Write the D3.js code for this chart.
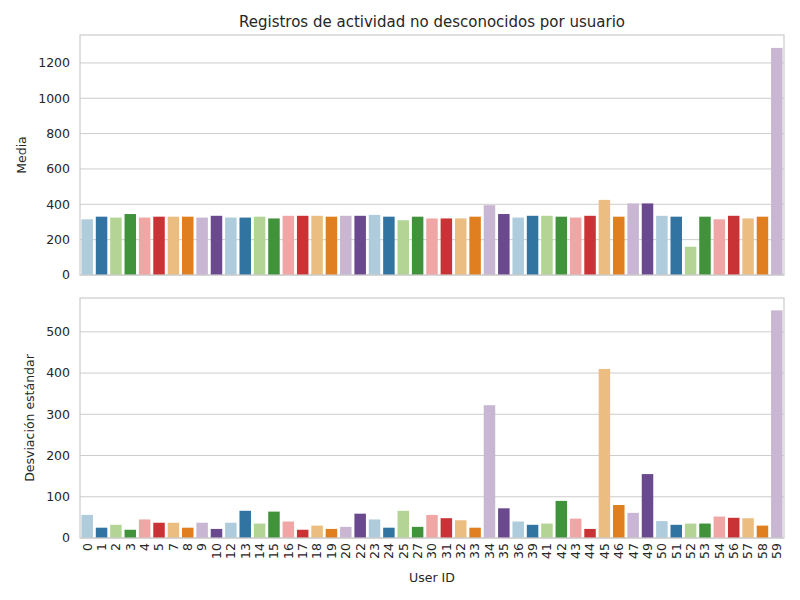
<!DOCTYPE html>
<html>
<head>
<meta charset="utf-8" />
<script src="https://d3js.org/d3.v7.min.js"></script>
<style>
  body { margin: 0; background: #fff; }
  text { font-family: "DejaVu Sans", sans-serif; fill: #262626; }
</style>
</head>
<body>
<svg id="chart" width="800" height="600"></svg>
<script>
var userIds = ["0","1","2","3","4","5","7","8","9","10","12","13","14","15","16","17","18","19","20","22","23","24","25","27","30","31","32","33","34","35","36","39","41","42","43","44","45","46","47","49","50","51","52","53","54","56","57","58","59"];
var meanValues = [315,330,325,345,325,330,330,330,325,335,325,325,330,320,335,335,335,330,335,335,340,330,310,330,320,320,320,330,395,345,325,335,335,330,325,335,425,330,405,405,335,330,160,330,315,335,320,330,1285];
var stdValues = [56,25,32,20,45,37,37,25,37,22,37,66,35,64,40,20,30,22,27,59,45,25,66,27,56,48,43,25,322,72,40,32,35,90,47,22,410,80,61,155,41,32,35,35,52,49,48,30,552];
var palette = ["#a6cee3","#1f78b4","#b2df8a","#33a02c","#fb9a99","#e31a1c","#fdbf6f","#ff7f00","#cab2d6","#6a3d9a"];

// seaborn-style desaturation
var colors = palette.map(function(c) {
  var h = d3.hsl(c); h.s *= 0.75; return h.formatHex();
});

var svg = d3.select("#chart");
var left = 80, right = 784;

var x = d3.scaleBand().domain(userIds).range([left, right]).paddingInner(0.2).paddingOuter(0.1);

svg.append("text").attr("x", (left + right) / 2).attr("y", 27)
  .attr("text-anchor", "middle").attr("font-size", 15)
  .text("Registros de actividad no desconocidos por usuario");

function panel(values, top, bottom, maxY, ticks, label, labelX) {
  var y = d3.scaleLinear().domain([0, maxY]).range([bottom, top]);
  var g = svg.append("g");
  g.selectAll(".grid").data(ticks).enter().append("line")
    .attr("x1", left).attr("x2", right)
    .attr("y1", function(d) { return y(d); }).attr("y2", function(d) { return y(d); })
    .attr("stroke", "#cccccc").attr("stroke-width", 1);
  g.selectAll(".bar").data(values).enter().append("rect")
    .attr("x", function(d, i) { return x(userIds[i]); })
    .attr("width", x.bandwidth())
    .attr("y", function(d) { return y(d); })
    .attr("height", function(d) { return bottom - y(d); })
    .attr("fill", function(d, i) { return colors[i % 10]; });
  g.append("rect").attr("x", left).attr("y", top).attr("width", right - left).attr("height", bottom - top)
    .attr("fill", "none").attr("stroke", "#cccccc").attr("stroke-width", 1.2);
  g.selectAll(".tick").data(ticks).enter().append("text")
    .attr("x", left - 10).attr("y", function(d) { return y(d); }).attr("dy", "0.35em")
    .attr("text-anchor", "end").attr("font-size", 12.5).text(function(d) { return d; });
  g.append("text").attr("transform", "translate(" + labelX + "," + (top + bottom) / 2 + ") rotate(-90)")
    .attr("text-anchor", "middle").attr("font-size", 12.5).text(label);
}

panel(meanValues, 35, 275, 1358, [0,200,400,600,800,1000,1200], "Media", 26);
panel(stdValues, 298, 538, 582, [0,100,200,300,400,500], "Desviación estándar", 34);

svg.selectAll(".xl").data(userIds).enter().append("text")
  .attr("transform", function(d) { return "translate(" + (x(d) + x.bandwidth() / 2) + ",543) rotate(-90)"; })
  .attr("dy", "0.35em").attr("text-anchor", "end").attr("font-size", 12.5).text(function(d) { return d; });

svg.append("text").attr("x", (left + right) / 2).attr("y", 582)
  .attr("text-anchor", "middle").attr("font-size", 12.5).text("User ID");
</script>
</body>
</html>
